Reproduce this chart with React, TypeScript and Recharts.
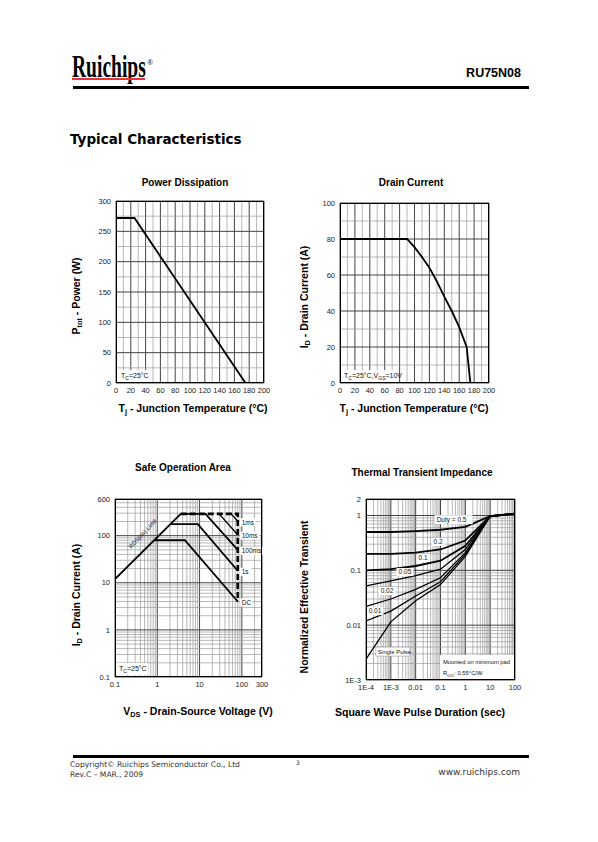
import React from "react";
import { LineChart, Line, XAxis, YAxis, ReferenceLine, ReferenceDot } from "recharts";

const SANS = "'Liberation Sans', Arial, Helvetica, sans-serif";
const WIDE = "'DejaVu Sans', Verdana, sans-serif";

// Power dissipation
const powerTemp = [0, 25, 175];
const powerWatt = [272, 272, 0];
const powerXTicks = [0, 10, 20, 30, 40, 50, 60, 70, 80, 90, 100, 110, 120, 130, 140, 150, 160, 170, 180, 190, 200];
const powerXLabels = [0, 20, 40, 60, 80, 100, 120, 140, 160, 180, 200];
const powerYTicks = [0, 25, 50, 75, 100, 125, 150, 175, 200, 225, 250, 275, 300];
const powerYLabels = [0, 50, 100, 150, 200, 250, 300];

// Drain current
const drainTemp = [0, 90, 100, 110, 120, 130, 140, 150, 160, 170, 175];
const drainAmp = [80, 80, 75.5, 70, 64, 56.5, 48, 40, 31, 20, 0];
const drainXTicks = [0, 10, 20, 30, 40, 50, 60, 70, 80, 90, 100, 110, 120, 130, 140, 150, 160, 170, 180, 190, 200];
const drainXLabels = [0, 20, 40, 60, 80, 100, 120, 140, 160, 180, 200];
const drainYTicks = [0, 10, 20, 30, 40, 50, 60, 70, 80, 90, 100];
const drainYLabels = [0, 20, 40, 60, 80, 100];

// Safe operation area
const soaLimitV = [0.1, 3.6];
const soaLimitA = [12, 290];
const soaDcV = [0.85, 4.5, 80];
const soaDcA = [80, 80, 4];
const soa1sV = [2.05, 9.1, 80];
const soa1sA = [175, 175, 18];
const soa100msV = [3.6, 13.8, 80];
const soa100msA = [290, 290, 50];
const soa10msV = [29, 80];
const soa10msA = [290, 105];
const soa1msV = [56, 80];
const soa1msA = [290, 202];
const soaEdgeV = [3.6, 80, 80];
const soaEdgeA = [290, 290, 4];
const soaPulseNames = ["1ms", "10ms", "100ms", "1s", "DC"];
const soaPulseEnds = [202, 105, 50, 18, 4];
const soaXLabels: [number, string][] = [[0.1, "0.1"], [1, "1"], [10, "10"], [100, "100"], [300, "300"]];
const soaYLabels: [number, string][] = [[0.1, "0.1"], [1, "1"], [10, "10"], [100, "100"], [600, "600"]];

// Thermal transient impedance
const pulseTime = [1e-4, 1e-3, 0.01, 0.1, 1, 10, 100];
const duty05 = [0.5, 0.5, 0.52, 0.55, 0.62, 0.97, 1.08];
const duty02 = [0.2, 0.2, 0.21, 0.24, 0.35, 0.97, 1.08];
const duty01 = [0.1, 0.105, 0.12, 0.15, 0.28, 0.97, 1.08];
const duty005 = [0.052, 0.064, 0.08, 0.105, 0.24, 0.97, 1.08];
const duty002 = [0.022, 0.03, 0.045, 0.073, 0.21, 0.97, 1.08];
const duty001 = [0.012, 0.018, 0.034, 0.062, 0.195, 0.97, 1.08];
const singlePulse = [0.0024, 0.0115, 0.028, 0.055, 0.18, 0.97, 1.08];
const dutyNames = ["0.5", "0.2", "0.1", "0.05", "0.02", "0.01", "Single Pulse"];
const thermalXLabels: [number, string][] = [[1e-4, "1E-4"], [1e-3, "1E-3"], [0.01, "0.01"], [0.1, "0.1"], [1, "1"], [10, "10"], [100, "100"]];
const thermalYLabels: [number, string][] = [[0.001, "1E-3"], [0.01, "0.01"], [0.1, "0.1"], [1, "1"], [2, "2"]];

const pts = (xs: number[], ys: number[]) => xs.map((x, i) => ({ x, y: ys[i] }));

const thermalRows = pulseTime.map((x, i) => ({
  x,
  d05: duty05[i],
  d02: duty02[i],
  d01: duty01[i],
  d005: duty005[i],
  d002: duty002[i],
  d001: duty001[i],
  single: singlePulse[i],
}));

const logTicks = (lo: number, hi: number) => {
  const out: number[] = [];
  for (let e = Math.floor(Math.log10(lo)); e <= Math.ceil(Math.log10(hi)); e++) {
    for (let m = 1; m <= 9; m++) {
      const v = +(m * Math.pow(10, e)).toPrecision(6);
      if (v >= lo * 0.999 && v <= hi * 1.001) out.push(v);
    }
  }
  return out;
};

const same = (a: number, b: number) => a === b || Math.abs(a / (b || 1e-12) - 1) < 1e-6;

type Axis = {
  domain: [number, number];
  ticks: number[];
  labels: [number, string][];
  major: number[];
  log?: boolean;
};

const linAxis = (domain: [number, number], ticks: number[], labels: number[]): Axis => ({
  domain,
  ticks,
  labels: labels.map((v) => [v, String(v)] as [number, string]),
  major: labels,
});

const logAxis = (domain: [number, number], labels: [number, string][]): Axis => ({
  domain,
  ticks: logTicks(domain[0], domain[1]),
  labels,
  major: labels.map((l) => l[0]),
  log: true,
});

const fmt = (labels: [number, string][]) => (v: number) => {
  const hit = labels.find((l) => same(l[0], v));
  return hit ? hit[1] : "";
};

const tickStyle = { fontSize: 7.5, fill: "#222", fontFamily: SANS };
const lineProps = { stroke: "#000", strokeWidth: 1.8, dot: false, isAnimationActive: false, type: "linear" as const };

// text runs: [text, isSubscript]
const runs = (parts: [string, boolean][], subSize = 5) =>
  parts.map(([t, s], i) => {
    const prevSub = i > 0 && parts[i - 1][1];
    const dy = s && !prevSub ? 2 : !s && prevSub ? -2 : 0;
    return (
      <tspan key={i} dy={dy || undefined} fontSize={s ? subSize : undefined}>
        {t}
      </tspan>
    );
  });

type TagOpts = {
  dx?: number;
  dy?: number;
  size?: number;
  anchor?: "start" | "middle" | "end";
  w?: number;
  h?: number;
  border?: boolean;
  rotate?: number;
};

const tag = (content: React.ReactNode, o: TagOpts = {}) => (p: any) => {
  const vb = p.viewBox || {};
  const cx = (vb.x ?? 0) + (vb.width ?? 0) / 2 + (o.dx ?? 0);
  const cy = (vb.y ?? 0) + (vb.height ?? 0) / 2 + (o.dy ?? 0);
  const anchor = o.anchor ?? "middle";
  const w = o.w ?? 0;
  const h = o.h ?? 9;
  const rx = anchor === "start" ? cx - 2 : anchor === "end" ? cx - w + 2 : cx - w / 2;
  return (
    <g transform={o.rotate ? `rotate(${o.rotate} ${cx} ${cy})` : undefined}>
      {w ? (
        <rect x={rx} y={cy - h / 2} width={w} height={h} fill="#fff" stroke={o.border ? "#999" : "none"} strokeWidth={0.6} />
      ) : null}
      <text x={cx} y={cy} dy="0.35em" textAnchor={anchor} fontSize={o.size ?? 7} fontFamily={SANS} fill="#111">
        {content}
      </text>
    </g>
  );
};

const PAD_L = 42;
const PAD_T = 8;
const PAD_R = 12;
const PAD_B = 22;

function Plot({
  left,
  top,
  w,
  h,
  x,
  y,
  children,
}: {
  left: number;
  top: number;
  w: number;
  h: number;
  x: Axis;
  y: Axis;
  children: React.ReactNode;
}) {
  const isMajor = (a: Axis, v: number) =>
    a.major.some((m) => same(m, v)) || (!!a.log && same(Math.pow(10, Math.round(Math.log10(v))), v));
  return (
    <div style={{ position: "absolute", left: left - PAD_L, top: top - PAD_T }}>
      <LineChart width={w + PAD_L + PAD_R} height={h + PAD_T + PAD_B} margin={{ top: PAD_T, right: PAD_R, left: 0, bottom: 0 }}>
        <XAxis
          type="number"
          dataKey="x"
          scale={x.log ? "log" : "linear"}
          domain={x.domain}
          ticks={x.ticks}
          interval={0}
          tickFormatter={fmt(x.labels)}
          height={PAD_B}
          tickLine={false}
          axisLine={false}
          tickSize={3}
          tick={tickStyle}
          allowDataOverflow
        />
        <YAxis
          type="number"
          scale={y.log ? "log" : "linear"}
          domain={y.domain}
          ticks={y.ticks}
          interval={0}
          tickFormatter={fmt(y.labels)}
          width={PAD_L}
          tickLine={false}
          axisLine={false}
          tickSize={3}
          tick={tickStyle}
          allowDataOverflow
        />
        {x.ticks.map((v) => (
          <ReferenceLine
            key={"gx" + v}
            x={v}
            stroke={isMajor(x, v) ? "#444" : "#999"}
            strokeWidth={isMajor(x, v) ? 1 : 0.7}
          />
        ))}
        {y.ticks.map((v) => (
          <ReferenceLine
            key={"gy" + v}
            y={v}
            stroke={isMajor(y, v) ? "#444" : "#999"}
            strokeWidth={isMajor(y, v) ? 1 : 0.7}
          />
        ))}
        {children}
      </LineChart>
      <div
        style={{
          position: "absolute",
          left: PAD_L,
          top: PAD_T,
          width: w,
          height: h,
          border: "1px solid #000",
          boxSizing: "border-box",
          pointerEvents: "none",
        }}
      />
    </div>
  );
}

const Txt = ({
  x,
  y,
  size,
  bold = true,
  family = SANS,
  rotate = 0,
  anchor = "middle",
  color = "#000",
  children,
}: {
  x: number;
  y: number;
  size: number;
  bold?: boolean;
  family?: string;
  rotate?: number;
  anchor?: "start" | "middle" | "end";
  color?: string;
  children: React.ReactNode;
}) => (
  <div
    style={{
      position: "absolute",
      left: x,
      top: y,
      whiteSpace: "nowrap",
      fontFamily: family,
      fontSize: size,
      fontWeight: bold ? 700 : 400,
      color,
      lineHeight: 1,
      transform: `translate(${anchor === "start" ? "0" : anchor === "end" ? "-100%" : "-50%"}, -50%)${rotate ? ` rotate(${rotate}deg)` : ""}`,
    }}
  >
    {children}
  </div>
);

const sub = { fontSize: "0.7em", verticalAlign: "-0.25em" } as const;

const dot = { r: 1, fill: "none", stroke: "none" };

export default function App() {
  const powerX = linAxis([0, 200], powerXTicks, powerXLabels);
  const powerY = linAxis([0, 300], powerYTicks, powerYLabels);
  const drainX = linAxis([0, 200], drainXTicks, drainXLabels);
  const drainY = linAxis([0, 100], drainYTicks, drainYLabels);
  const soaX = logAxis([0.1, 300], soaXLabels);
  const soaY = logAxis([0.1, 600], soaYLabels);
  const thX = logAxis([1e-4, 100], thermalXLabels);
  const thY = logAxis([0.001, 2], thermalYLabels);

  const dutyKeys = ["d05", "d02", "d01", "d005", "d002", "d001", "single"];
  const tc: [string, boolean][] = [["T", false], ["C", true], ["=25°C", false]];

  return (
    <div style={{ position: "absolute", left: 0, top: 0, width: 598, height: 842, background: "#fff", overflow: "hidden" }}>
      {/* header */}
      <div
        style={{
          position: "absolute",
          left: 72,
          top: 51,
          fontFamily: "'Liberation Serif', 'Times New Roman', serif",
          fontWeight: 700,
          fontSize: 31,
          lineHeight: 1,
          transform: "scaleX(0.63)",
          transformOrigin: "left top",
          whiteSpace: "nowrap",
        }}
      >
        Ruichips
      </div>
      <div style={{ position: "absolute", left: 72, top: 78, width: 73, height: 2, background: "#e8333a" }} />
      <Txt x={150} y={62} size={7} bold={false} family={SANS}>®</Txt>
      <Txt x={521} y={73} size={12.5} anchor="end">RU75N08</Txt>
      <div style={{ position: "absolute", left: 73, top: 86, width: 456, height: 3, background: "#000" }} />
      <Txt x={70} y={140} size={13.5} anchor="start" family={WIDE}>Typical Characteristics</Txt>

      {/* titles */}
      <Txt x={185} y={183} size={10}>Power Dissipation</Txt>
      <Txt x={411} y={183} size={10}>Drain Current</Txt>
      <Txt x={183} y={468} size={10}>Safe Operation Area</Txt>
      <Txt x={422} y={473} size={10}>Thermal Transient Impedance</Txt>

      {/* Power dissipation */}
      <Plot left={116} top={201} w={148} h={182} x={powerX} y={powerY}>
        <Line data={pts(powerTemp, powerWatt)} dataKey="y" {...lineProps} />
        <ReferenceDot
          x={0}
          y={0}
          {...dot}
          label={tag(runs(tc), { anchor: "start", dx: 5, dy: -7, w: 32, h: 12, size: 7 })}
        />
      </Plot>
      <Txt x={77} y={296} size={10.5} rotate={-90}>
        P<span style={sub}>tot</span> - Power (W)
      </Txt>
      <Txt x={193} y={409} size={10.5}>
        T<span style={sub}>j</span> - Junction Temperature (°C)
      </Txt>

      {/* Drain current */}
      <Plot left={340} top={203} w={149} h={180} x={drainX} y={drainY}>
        <Line data={pts(drainTemp, drainAmp)} dataKey="y" {...lineProps} />
        <ReferenceDot
          x={0}
          y={0}
          {...dot}
          label={tag(
            runs([
              ["T", false],
              ["C", true],
              ["=25°C,V", false],
              ["GS", true],
              ["=10V", false],
            ]),
            { anchor: "start", dx: 4, dy: -7, w: 51, h: 12, size: 7 }
          )}
        />
      </Plot>
      <Txt x={305} y={297} size={10.5} rotate={-90}>
        I<span style={sub}>D</span> - Drain Current (A)
      </Txt>
      <Txt x={414} y={409} size={10.5}>
        T<span style={sub}>j</span> - Junction Temperature (°C)
      </Txt>

      {/* Safe operation area */}
      <Plot left={115} top={499} w={147} h={178} x={soaX} y={soaY}>
        <Line data={pts(soaLimitV, soaLimitA)} dataKey="y" {...lineProps} />
        <Line data={pts(soaDcV, soaDcA)} dataKey="y" {...lineProps} />
        <Line data={pts(soa1sV, soa1sA)} dataKey="y" {...lineProps} />
        <Line data={pts(soa100msV, soa100msA)} dataKey="y" {...lineProps} />
        <Line data={pts(soa10msV, soa10msA)} dataKey="y" {...lineProps} strokeWidth={1.4} />
        <Line data={pts(soa1msV, soa1msA)} dataKey="y" {...lineProps} strokeWidth={1.4} />
        <Line data={pts(soaEdgeV, soaEdgeA)} dataKey="y" {...lineProps} strokeWidth={2.6} strokeDasharray="6 3" />
        {soaPulseNames.map((n, i) => (
          <ReferenceDot
            key={n}
            x={80}
            y={soaPulseEnds[i]}
            {...dot}
            label={tag(n, { anchor: "start", dx: 4, dy: 1, w: n.length * 4 + 4, h: 8, size: 6.5 })}
          />
        ))}
        <ReferenceDot x={0.45} y={110} {...dot} label={tag("RDS(on) Limit", { rotate: -47, size: 6 })} />
        <ReferenceDot
          x={0.1}
          y={0.1}
          {...dot}
          label={tag(runs(tc), { anchor: "start", dx: 4, dy: -8, w: 31, h: 12, size: 7 })}
        />
      </Plot>
      <Txt x={77} y={595} size={10.5} rotate={-90}>
        I<span style={sub}>D</span> - Drain Current (A)
      </Txt>
      <Txt x={198} y={712} size={10.5}>
        V<span style={sub}>DS</span> - Drain-Source Voltage (V)
      </Txt>

      {/* Thermal transient impedance */}
      <Plot left={366} top={499} w={149} h={181} x={thX} y={thY}>
        {dutyKeys.map((k) => (
          <Line
            key={k}
            data={thermalRows}
            dataKey={k}
            {...lineProps}
            strokeWidth={k === "d05" || k === "d02" || k === "d01" ? 1.8 : 1.3}
          />
        ))}
        <ReferenceDot x={0.07} y={0.84} {...dot} label={tag(`Duty = ${dutyNames[0]}`, { anchor: "start", w: 38, h: 9, size: 6.5 })} />
        <ReferenceDot x={0.08} y={0.33} {...dot} label={tag(dutyNames[1], { w: 13, h: 8, size: 6.5 })} />
        <ReferenceDot x={0.02} y={0.168} {...dot} label={tag(dutyNames[2], { w: 13, h: 8, size: 6.5 })} />
        <ReferenceDot x={0.0037} y={0.093} {...dot} label={tag(dutyNames[3], { w: 17, h: 8, size: 6.5 })} />
        <ReferenceDot x={0.0007} y={0.042} {...dot} label={tag(dutyNames[4], { w: 17, h: 8, size: 6.5 })} />
        <ReferenceDot x={0.00023} y={0.018} {...dot} label={tag(dutyNames[5], { w: 17, h: 8, size: 6.5 })} />
        <ReferenceDot
          x={0.0003}
          y={0.0033}
          {...dot}
          label={tag(dutyNames[6], { anchor: "start", w: 34, h: 9, size: 6, border: true })}
        />
        <ReferenceDot
          x={100}
          y={0.001}
          {...dot}
          label={(p: any) => {
            const vb = p.viewBox || {};
            const x0 = (vb.x ?? 0) + (vb.width ?? 0) / 2;
            const y0 = (vb.y ?? 0) + (vb.height ?? 0) / 2;
            return (
              <g>
                <rect x={x0 - 75} y={y0 - 25} width={74} height={24} fill="#fff" />
                <text x={x0 - 72} y={y0 - 16} fontSize={5.8} fontFamily={SANS} fill="#111">
                  Mounted on minimum pad
                </text>
                <text x={x0 - 72} y={y0 - 5} fontSize={5.8} fontFamily={SANS} fill="#111">
                  {runs([["R", false], ["θJC", true], [": 0.55°C/W", false]], 4)}
                </text>
              </g>
            );
          }}
        />
      </Plot>
      <Txt x={304} y={597} size={10.5} rotate={-90}>Normalized Effective Transient</Txt>
      <Txt x={420} y={712} size={10.5}>Square Wave Pulse Duration (sec)</Txt>

      {/* footer */}
      <div style={{ position: "absolute", left: 73, top: 755, width: 456, height: 3, background: "#000" }} />
      <Txt x={70} y={765} size={7.6} bold={false} family={WIDE} anchor="start" color="#333">
        Copyright© Ruichips Semiconductor Co., Ltd
      </Txt>
      <Txt x={70} y={775} size={7.6} bold={false} family={WIDE} anchor="start" color="#333">
        Rev.C – MAR., 2009
      </Txt>
      <Txt x={298} y={763} size={6} bold={false} family={WIDE} color="#333">3</Txt>
      <Txt x={520} y={772} size={9} bold={false} family={WIDE} anchor="end" color="#333">www.ruichips.com</Txt>
    </div>
  );
}
